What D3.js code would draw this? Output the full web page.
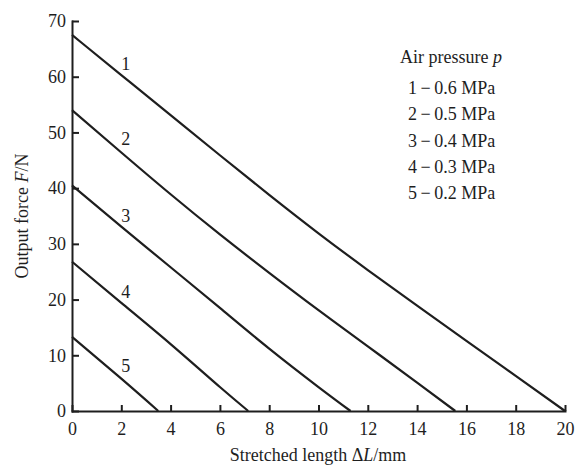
<!DOCTYPE html>
<html>
<head>
<meta charset="utf-8">
<script src="https://d3js.org/d3.v7.min.js"></script>
<style>
  body { margin: 0; background: #fff; }
  svg text { font-family: "Liberation Serif", "Times New Roman", serif; fill: #1e1e1e; }
  .axis path, .axis line { stroke: #1e1e1e; stroke-width: 2px; }
  .axis text { font-size: 18px; }
  path.curve { fill: none; stroke: #1e1e1e; stroke-width: 2.2px; }
</style>
</head>
<body>
<script>
// stretched length (mm) -> output force (N), one array per air pressure
const curve1 = [[0, 67.5], [2, 60.3], [4, 53.1], [6, 45.9], [8, 38.8], [10, 31.9], [12, 25.3], [14, 18.9], [16, 12.6], [18, 6.3], [20, 0]];
const curve2 = [[0, 54], [2, 46.4], [4, 38.9], [6, 31.7], [8, 24.8], [10, 18.1], [12, 11.6], [14, 5.1], [15.55, 0]];
const curve3 = [[0, 40.5], [2, 33.1], [4, 25.8], [6, 18.5], [8, 11.2], [10, 4.3], [11.3, 0]];
const curve4 = [[0, 26.8], [2, 19.4], [4, 12.0], [6, 4.3], [7.15, 0]];
const curve5 = [[0, 13.3], [2, 5.8], [3.5, 0]];
const curveNames = ["1", "2", "3", "4", "5"];
const labelAt = [[2.18, 62.4], [2.18, 48.9], [2.18, 35.0], [2.18, 21.5], [2.18, 8.1]];
const pressures = ["0.6", "0.5", "0.4", "0.3", "0.2"];
const xTicks = [0, 2, 4, 6, 8, 10, 12, 14, 16, 18, 20];
const yTicks = [0, 10, 20, 30, 40, 50, 60, 70];

let width = 582;
let height = 467;

let svg = d3.select("body").append("svg")
  .attr("width", width)
  .attr("height", height);

let x = d3.scaleLinear().domain([0, 20]).range([72, 565]);
let y = d3.scaleLinear().domain([0, 70]).range([411, 21]);

// axes, ticks pointing inward
svg.append("g")
  .attr("class", "axis")
  .attr("transform", "translate(0," + y(0) + ")")
  .call(d3.axisBottom(x).tickValues(xTicks).tickSizeInner(-6).tickSizeOuter(0).tickPadding(11));

svg.append("g")
  .attr("class", "axis")
  .attr("transform", "translate(" + x(0) + ",0)")
  .call(d3.axisLeft(y).tickValues(yTicks).tickSizeInner(-7).tickSizeOuter(0).tickPadding(6));

svg.selectAll(".axis .domain").attr("stroke-linecap", "square");

// curves
let line = d3.line()
  .x(d => x(d[0]))
  .y(d => y(d[1]))
  .curve(d3.curveNatural);

let curves = [curve1, curve2, curve3, curve4, curve5];
svg.selectAll("path.curve")
  .data(curves)
  .enter()
  .append("path")
  .attr("class", "curve")
  .attr("d", line);

svg.selectAll("text.clabel")
  .data(labelAt)
  .enter()
  .append("text")
  .attr("class", "clabel")
  .attr("x", d => x(d[0]))
  .attr("y", d => y(d[1]))
  .attr("dy", "0.35em")
  .attr("text-anchor", "middle")
  .attr("font-size", 18)
  .text((d, i) => curveNames[i]);

// legend
let legend = svg.append("g").attr("font-size", 18);
legend.append("text")
  .attr("x", 400)
  .attr("y", 63)
  .html('Air pressure <tspan font-style="italic">p</tspan>');

legend.selectAll("text.entry")
  .data(pressures)
  .enter()
  .append("text")
  .attr("class", "entry")
  .attr("x", 408)
  .attr("y", (d, i) => 94 + i * 26.3)
  .text((d, i) => curveNames[i] + "\u2009\u2212\u2009" + d + " MPa");

// axis titles
svg.append("text")
  .attr("x", 318)
  .attr("y", 461)
  .attr("text-anchor", "middle")
  .attr("font-size", 18)
  .html('Stretched length \u0394<tspan font-style="italic">L</tspan>/mm');

svg.append("text")
  .attr("transform", "translate(28,216) rotate(-90)")
  .attr("text-anchor", "middle")
  .attr("font-size", 18)
  .html('Output force <tspan font-style="italic">F</tspan>/N');
</script>
</body>
</html>
